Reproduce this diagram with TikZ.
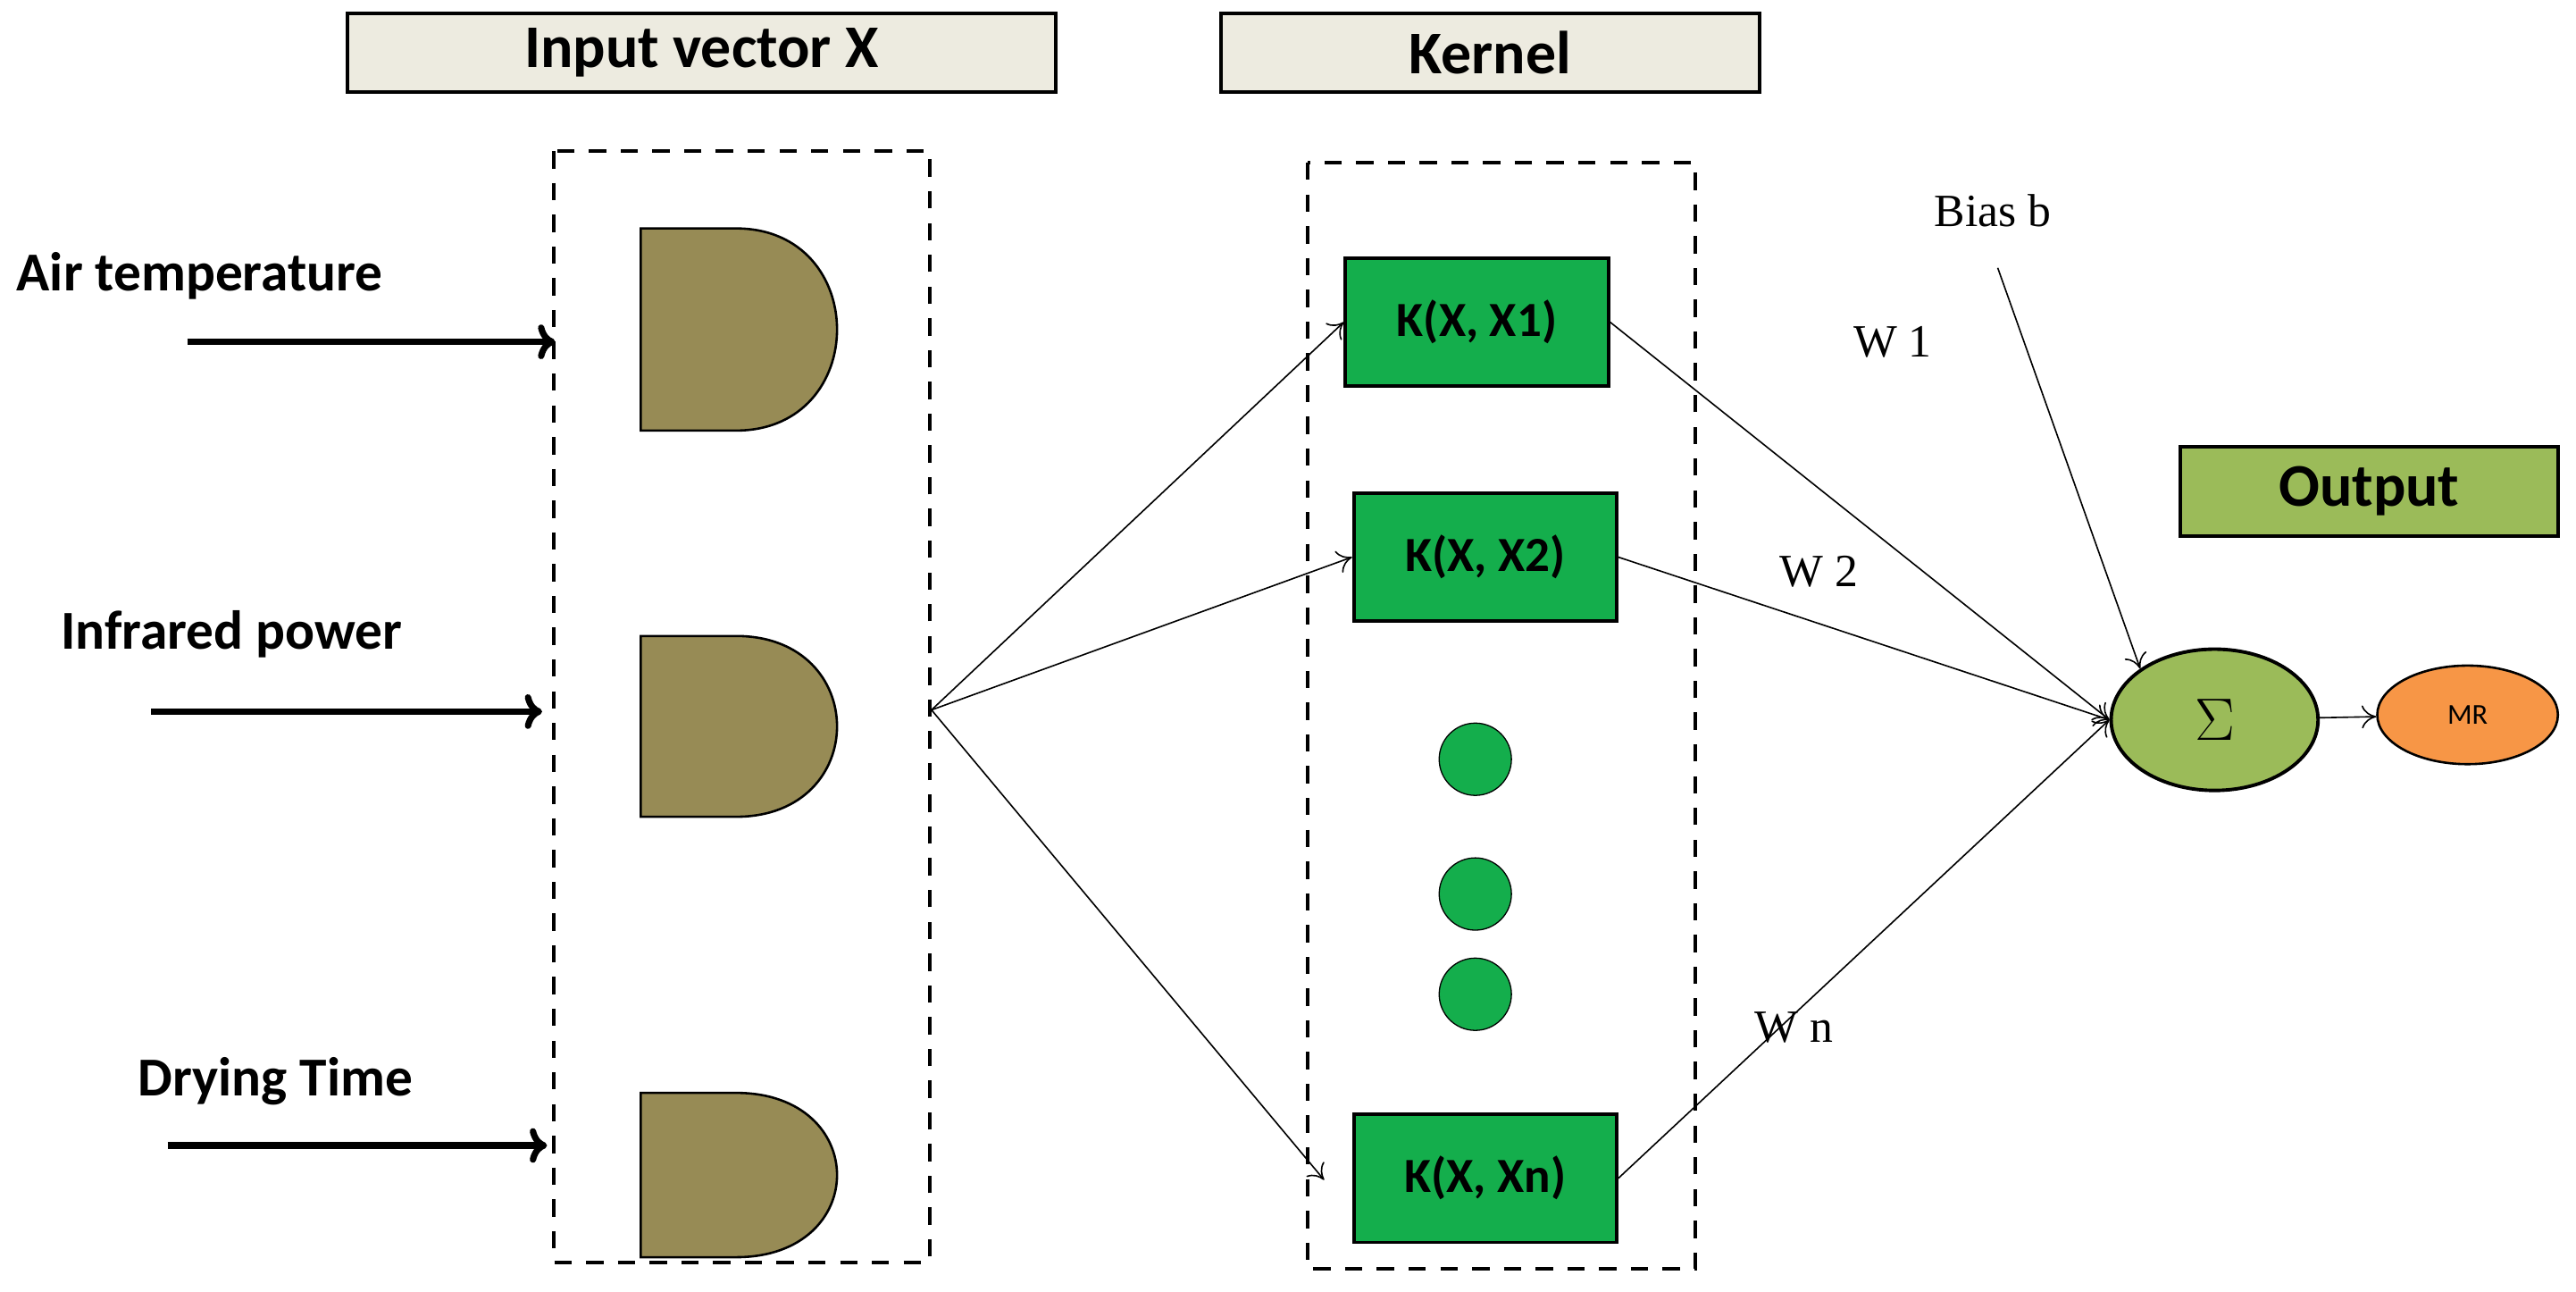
\documentclass[tikz,border=0pt]{standalone}
\usepackage{fontspec}
\setmainfont{Liberation Serif}
\newfontfamily\carlito{Carlito}
\usetikzlibrary{positioning,shapes,arrows,arrows.meta}

\definecolor{headfill}{HTML}{EDEBE0}
\definecolor{gatefill}{HTML}{978B55}
\definecolor{kernfill}{HTML}{14AE4C}
\definecolor{sumfill}{HTML}{9BBB59}
\definecolor{mrfill}{HTML}{F79646}

\begin{document}
\begin{tikzpicture}[x=0.02cm,y=-0.02cm,
header/.style={rectangle, draw=black, very thick, fill=headfill, inner sep=0pt, font=\carlito\bfseries\fontsize{21}{24}\selectfont},
kern/.style={rectangle, draw=black, very thick, fill=kernfill, minimum width=3.2cm, minimum height=1.56cm, inner sep=0pt, font=\carlito\bfseries\fontsize{17}{20}\selectfont},
dotnode/.style={circle, draw=black, fill=kernfill, minimum size=0.88cm, inner sep=0pt},
inlabel/.style={font=\carlito\bfseries\fontsize{19}{22}\selectfont},
wlabel/.style={font=\fontsize{16}{19}\selectfont},
inarrow/.style={line width=2.2pt, -{To[length=6pt,width=12pt]}},
link/.style={line width=0.5pt, -{To[length=5pt,width=8pt]}},
]
\useasboundingbox (0,0) rectangle (1568,786);

% headers
\node[header, minimum width=8.62cm, minimum height=0.96cm] (hin) at (427,32) {Input vector X};
\node[header, minimum width=6.56cm, minimum height=0.96cm] (hker) at (907,32) {Kernel};
\node[header, fill=sumfill, minimum width=4.6cm, minimum height=1.08cm] (hout) at (1442,299) {Output};

% dashed frames
\draw[very thick, dash pattern=on 6pt off 5pt] (337,92) rectangle (566,768);
\draw[very thick, dash pattern=on 6pt off 5pt] (796,99) rectangle (1032,772);

% input gates
\foreach \n/\ya/\yb in {g1/139/262, g2/387/497, g3/665/765}{
  \draw[thick, fill=gatefill] (390,\ya) -- (448,\ya)
    .. controls (530,\ya) and (530,\yb) .. (448,\yb) -- (390,\yb) -- cycle;
}

% inputs
\node[inlabel, anchor=west] (l1) at (4,168) {Air temperature};
\node[inlabel, anchor=west] (l2) at (31,386) {Infrared power};
\node[inlabel, anchor=west] (l3) at (78,658) {Drying Time};
\coordinate (a1s) at (114,208); \coordinate (a1e) at (338,208);
\coordinate (a2s) at (92,433);  \coordinate (a2e) at (330,433);
\coordinate (a3s) at (102,697); \coordinate (a3e) at (333,697);
\draw[inarrow] (a1s) -- (a1e);
\draw[inarrow] (a2s) -- (a2e);
\draw[inarrow] (a3s) -- (a3e);

% kernels
\node[kern] (k1) at (899,196) {K(X, X1)};
\node[kern] (k2) at (904,339) {K(X, X2)};
\node[kern] (kn) at (904,717) {K(X, Xn)};
\node[dotnode] (d1) at (898,462) {};
\node[dotnode] (d2) at (898,544) {};
\node[dotnode] (d3) at (898,605) {};

\coordinate (fan) at (567,432);
\coordinate (knin) at (806,718);
\draw[link] (fan) -- (k1.west);
\draw[link] (fan) -- (k2.west);
\draw[link] (fan) -- (knin);

% summation and output
\node[ellipse, draw=black, very thick, fill=sumfill, minimum width=2.52cm, minimum height=1.72cm, inner sep=0pt, font=\fontsize{22}{24}\selectfont] (sum) at (1348,438) {$\Sigma$};
\node[ellipse, draw=black, thick, fill=mrfill, minimum width=2.2cm, minimum height=1.2cm, inner sep=0pt, font=\carlito\fontsize{10}{12}\selectfont] (mr) at (1502,435) {MR};

\draw[link] (k1.east) -- (sum.west);
\draw[link] (k2.east) -- (sum.west);
\draw[link] (kn.east) -- (sum.west);
\draw[link] (sum) -- (mr);

\node[wlabel] (bias) at (1213,128) {Bias b};
\coordinate (bstart) at (1216,163);
\draw[link] (bstart) -- (sum.north west);

\node[wlabel] (w1) at (1152,208) {W 1};
\node[wlabel] (w2) at (1107,348) {W 2};
\node[wlabel] (wn) at (1092,625) {W n};
\end{tikzpicture}
\end{document}
